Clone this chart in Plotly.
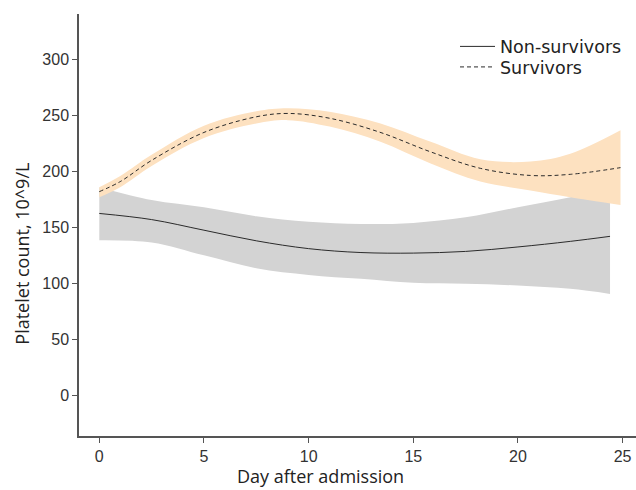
import plotly.graph_objects as go

# ---- data ----
days_surv = [0, 1, 2.5, 5, 7.5, 9, 11, 13.4, 15.8, 18.2, 20.6, 22.5, 24.9]
surv_mean = [182, 191, 210, 235, 249, 252, 247.7, 235.2, 217.8, 202.9, 196.5, 197.5, 203.5]
surv_hi = [186, 196, 215, 241, 254, 256.7, 253.6, 243.2, 226.8, 211, 209, 216, 237]
surv_lo = [177, 186, 205, 230, 243, 246, 240.2, 226.8, 207.4, 191, 183, 177, 170]

days_non = [0, 2.5, 5, 7.5, 10, 12.5, 15, 17.5, 20, 22.5, 24.4]
non_mean = [162.5, 157, 147.5, 138, 131, 127.5, 127, 128.5, 132.5, 137.5, 142]
non_hi = [186, 174.5, 168, 160, 155, 153, 154, 159, 168, 177, 185]
non_lo = [138.5, 136.5, 125, 113.5, 107.5, 104, 100.5, 99.5, 98, 95, 90.5]

x_ticks = [0, 5, 10, 15, 20, 25]
y_ticks = [0, 50, 100, 150, 200, 250, 300]

GREY = "#D3D3D3"
PEACH = "#FDE1C0"
LINE = "#2b2b2b"
AX = "#555555"
TITLE_FONT = "Open Sans"

fig = go.Figure()

# grey band (non-survivors)
fig.add_trace(go.Scatter(x=days_non, y=non_lo, mode="lines", line=dict(width=0, shape="spline"),
                         showlegend=False, hoverinfo="skip"))
fig.add_trace(go.Scatter(x=days_non, y=non_hi, mode="lines", line=dict(width=0, shape="spline"),
                         fill="tonexty", fillcolor=GREY, showlegend=False, hoverinfo="skip"))
# peach band (survivors)
fig.add_trace(go.Scatter(x=days_surv, y=surv_lo, mode="lines", line=dict(width=0, shape="spline"),
                         showlegend=False, hoverinfo="skip"))
fig.add_trace(go.Scatter(x=days_surv, y=surv_hi, mode="lines", line=dict(width=0, shape="spline"),
                         fill="tonexty", fillcolor=PEACH, showlegend=False, hoverinfo="skip"))

fig.add_trace(go.Scatter(x=days_non, y=non_mean, mode="lines", name="Non-survivors", legend="legend",
                         line=dict(color=LINE, width=1, shape="spline")))
fig.add_trace(go.Scatter(x=days_surv, y=surv_mean, mode="lines", name="Survivors", legend="legend2",
                         line=dict(color=LINE, width=1, dash="4px,3px", shape="spline")))

axis_common = dict(showgrid=False, zeroline=False, showline=True, linecolor=AX, linewidth=1.5,
                   ticks="outside", ticklen=5, tickwidth=1.2, tickcolor=AX, automargin=False,
                   tickfont=dict(family="Liberation Sans", size=16, color="#333333"))

fig.update_xaxes(range=[-0.97, 25.64], tickvals=x_ticks, **axis_common)
fig.update_yaxes(range=[-36.7, 341], tickvals=y_ticks, **axis_common)

legend_common = dict(xanchor="left", yanchor="middle", itemwidth=35, bgcolor="rgba(0,0,0,0)",
                     font=dict(family="DejaVu Sans", size=17.5, color="#222222"))
LEG_X = (455 - 79) / 557

fig.update_layout(
    width=636, height=490,
    margin=dict(l=79, r=0, t=14, b=54),
    paper_bgcolor="white", plot_bgcolor="white",
    showlegend=True,
    legend=dict(x=LEG_X, y=(435.7 - 46.5) / 421.7, **legend_common),
    legend2=dict(x=LEG_X, y=(435.7 - 67) / 421.7, **legend_common),
    annotations=[
        dict(text="Day after admission", xref="paper", yref="paper", x=(320 - 79) / 557,
             y=(435.7 - 489.5) / 421.7, xanchor="center", yanchor="bottom", showarrow=False,
             font=dict(family=TITLE_FONT, size=18, color="#222222")),
        dict(text="Platelet count, 10^9/L", xref="paper", yref="paper", x=(22 - 79) / 557,
             y=(435.7 - 253.5) / 421.7, xanchor="center", yanchor="middle", textangle=-90,
             showarrow=False, font=dict(family=TITLE_FONT, size=18, color="#222222")),
    ],
)

fig.write_html("out.html", config={"displayModeBar": False},
               post_script="document.body.style.margin='0px';")
